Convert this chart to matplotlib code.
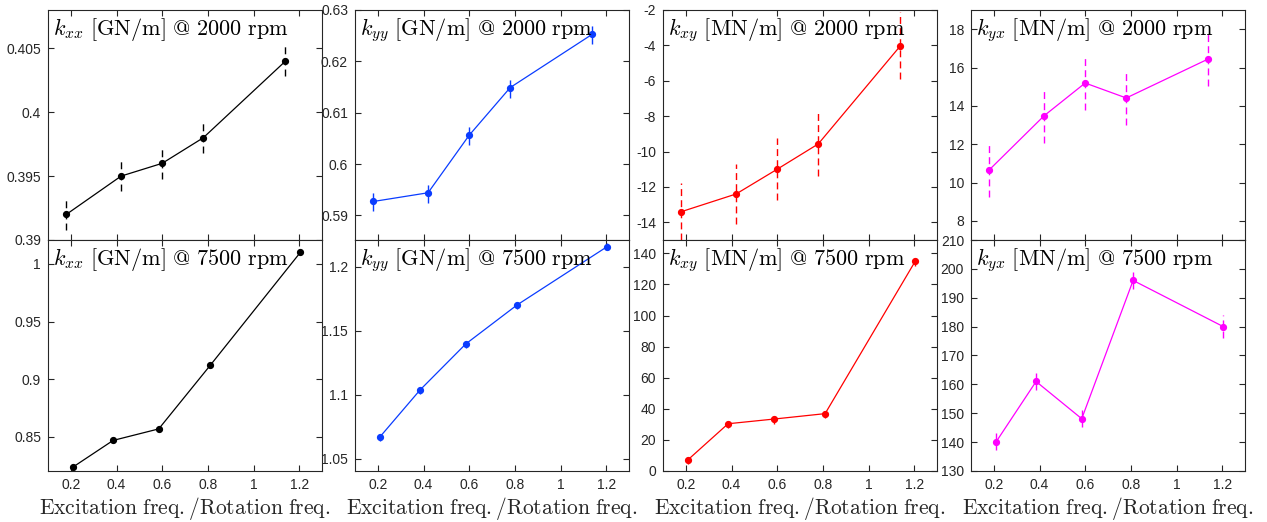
import numpy as np
import matplotlib
matplotlib.use("Agg")
from matplotlib import pyplot as plt
from matplotlib.ticker import FuncFormatter

plt.rcParams["mathtext.fontset"] = "cm"
plt.rcParams["font.family"] = ["Liberation Sans", "DejaVu Sans"]
plt.rcParams["axes.unicode_minus"] = False

# excitation frequency ratio of each test point
x_2000 = [0.18, 0.42, 0.60, 0.78, 1.14]
x_7500 = [0.21, 0.385, 0.585, 0.81, 1.205]

# stiffness values and their uncertainty, 2000 rpm
kxx_2000 = [0.392, 0.395, 0.396, 0.398, 0.404]
kxx_2000_err = [0.0012, 0.0012, 0.0012, 0.0012, 0.0012]
kyy_2000 = [0.5927, 0.5944, 0.6056, 0.6149, 0.6253]
kyy_2000_err = [0.0019, 0.0019, 0.0019, 0.002, 0.002]
kxy_2000 = [-13.4, -12.4, -11.0, -9.57, -4.02]
kxy_2000_err = [1.6, 1.7, 1.75, 1.8, 1.9]
kyx_2000 = [10.66, 13.48, 15.19, 14.41, 16.45]
kyx_2000_err = [1.42, 1.42, 1.42, 1.42, 1.42]

# stiffness values and their uncertainty, 7500 rpm
kxx_7500 = [0.824, 0.847, 0.857, 0.912, 1.010]
kxx_7500_err = [0.001, 0.001, 0.001, 0.001, 0.001]
kyy_7500 = [1.0674, 1.1039, 1.1398, 1.1703, 1.2159]
kyy_7500_err = [0.003, 0.003, 0.003, 0.003, 0.003]
kxy_7500 = [7.3, 30.4, 33.4, 36.9, 135.0]
kxy_7500_err = [3.0, 3.0, 3.0, 3.0, 3.0]
kyx_7500 = [140.1, 161.0, 148.1, 196.0, 180.0]
kyx_7500_err = [3.0, 3.0, 3.0, 3.0, 4.0]

panels = [
    # (row, col, x, y, err, color, subscript, unit, speed, ylim, yticks)
    (0, 0, x_2000, kxx_2000, kxx_2000_err, "black", "xx", "GN", 2000, (0.39, 0.408), [0.39, 0.395, 0.4, 0.405]),
    (0, 1, x_2000, kyy_2000, kyy_2000_err, "#0a3cff", "yy", "GN", 2000, (0.5852, 0.63), [0.59, 0.6, 0.61, 0.62, 0.63]),
    (0, 2, x_2000, kxy_2000, kxy_2000_err, "#ff0000", "xy", "MN", 2000, (-15, -2), list(range(-14, -1, 2))),
    (0, 3, x_2000, kyx_2000, kyx_2000_err, "#ff00ff", "yx", "MN", 2000, (7, 19), list(range(8, 19, 2))),
    (1, 0, x_7500, kxx_7500, kxx_7500_err, "black", "xx", "GN", 7500, (0.8205, 1.0208), [0.85, 0.9, 0.95, 1.0]),
    (1, 1, x_7500, kyy_7500, kyy_7500_err, "#0a3cff", "yy", "GN", 7500, (1.0406, 1.221), [1.05, 1.1, 1.15, 1.2]),
    (1, 2, x_7500, kxy_7500, kxy_7500_err, "#ff0000", "xy", "MN", 7500, (0, 148.6), list(range(0, 141, 20))),
    (1, 3, x_7500, kyx_7500, kyx_7500_err, "#ff00ff", "yx", "MN", 7500, (130, 210), list(range(130, 211, 10))),
]

W, H = 1267, 522
col_left = [48, 355, 663, 971]
ax_w = 274
row_top = [10, 240]
row_h = [230, 231]

fig = plt.figure(figsize=(W / 100, H / 100), dpi=100)
fmt = FuncFormatter(lambda v, p: "%g" % round(v, 6))
edge = "#262626"

for row, col, xs, ys, err, color, sub, unit, rpm, ylim, yticks in panels:
    left = col_left[col] / W
    bottom = (H - row_top[row] - row_h[row]) / H
    ax = fig.add_axes([left, bottom, ax_w / W, row_h[row] / H])
    line, caps, bars = ax.errorbar(xs, ys, yerr=err, color=color, lw=0.9, marker="o",
                                   markersize=4.2, elinewidth=1.0, capsize=0)
    bars[0].set_linestyle((0, (5, 3)))
    ax.set_xlim(0.1, 1.3)
    ax.set_ylim(*ylim)
    ax.set_xticks([0.2, 0.4, 0.6, 0.8, 1.0, 1.2])
    ax.set_yticks(yticks)
    ax.xaxis.set_major_formatter(fmt)
    ax.yaxis.set_major_formatter(fmt)
    ax.tick_params(direction="in", top=True, right=True, length=4, width=0.8,
                   labelsize=10, colors=edge, pad=5)
    for s in ax.spines.values():
        s.set_color(edge)
        s.set_linewidth(0.8)
    ax.text(0.02, 0.975, r"$k_{%s}\ \mathrm{[%s/m]\ @\ %d\ rpm}$" % (sub, unit, rpm),
            transform=ax.transAxes, ha="left", va="top", fontsize=16)
    if row == 0:
        ax.tick_params(labelbottom=False)
    else:
        ax.set_xlabel(r"$\mathrm{Excitation\ freq./Rotation\ freq.}$", fontsize=15.5,
                      labelpad=2, color="#262626")

fig.savefig("out.png", dpi=100)
